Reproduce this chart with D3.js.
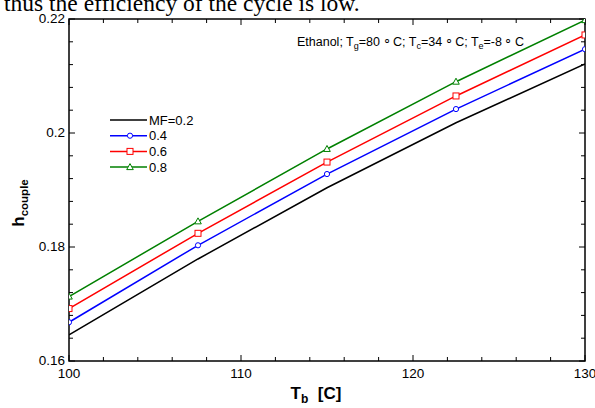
<!DOCTYPE html>
<html><head><meta charset="utf-8">
<script src="https://cdn.jsdelivr.net/npm/d3@7"></script>
<style>body{margin:0;background:#fff;}svg{display:block;}</style>
</head><body>
<svg id="c" width="595" height="408"></svg>
<script>
const tb = [100, 107.5, 115, 122.5, 130];
const mf02 = [0.1646, 0.1779, 0.1904, 0.2018, 0.2121];
const mf04 = [0.1668, 0.1803, 0.1928, 0.2042, 0.2147];
const mf06 = [0.1692, 0.1824, 0.1949, 0.2065, 0.2172];
const mf08 = [0.1713, 0.1845, 0.1972, 0.2090, 0.2198];
const seriesNames = ["MF=0.2", "0.4", "0.6", "0.8"];
const xTickLabels = [100, 110, 120, 130];
const yTickLabels = [0.16, 0.18, 0.2, 0.22];

const series = [
  {name: seriesNames[0], vals: mf02, color: "#000000", marker: null},
  {name: seriesNames[1], vals: mf04, color: "#0000ff", marker: "circle"},
  {name: seriesNames[2], vals: mf06, color: "#ff0000", marker: "square"},
  {name: seriesNames[3], vals: mf08, color: "#008000", marker: "triangle"}
];

const svg = d3.select("#c");
const L = 69, R = 585, T = 19, B = 361;
const x = d3.scaleLinear().domain([100, 130]).range([L, R]);
const y = d3.scaleLinear().domain([0.16, 0.22]).range([B, T]);

// caption text at top (cut off)
svg.append("text").attr("x", 4).attr("y", 11)
  .attr("font-family", "Liberation Serif, Times New Roman, serif")
  .attr("font-size", 23.5).text("thus the efficiency of the cycle is low.");

svg.append("defs").append("clipPath").attr("id", "clip")
  .append("rect").attr("x", L).attr("y", T).attr("width", R - L).attr("height", B - T);

const font = "Liberation Sans, Arial, sans-serif";
const xMinor = d3.range(100, 130.01, 2);
const yMinor = d3.range(0, 16).map(i => 0.16 + i * 0.004);

const tg = svg.append("g").attr("stroke", "#000").attr("stroke-width", 1);
xMinor.forEach(v => {
  const major = xTickLabels.includes(Math.round(v));
  const len = major ? 6 : 4;
  tg.append("line").attr("x1", x(v)).attr("x2", x(v)).attr("y1", B).attr("y2", B - len);
  tg.append("line").attr("x1", x(v)).attr("x2", x(v)).attr("y1", T).attr("y2", T + len);
});
yMinor.forEach(v => {
  const major = yTickLabels.some(t => Math.abs(t - v) < 1e-6);
  const len = major ? 6 : 4;
  tg.append("line").attr("y1", y(v)).attr("y2", y(v)).attr("x1", L).attr("x2", L + len);
  tg.append("line").attr("y1", y(v)).attr("y2", y(v)).attr("x1", R).attr("x2", R - len);
});

// axes frame
svg.append("rect").attr("x", L).attr("y", T).attr("width", R - L).attr("height", B - T)
  .attr("fill", "none").attr("stroke", "#000").attr("stroke-width", 1.5);

// tick labels
xTickLabels.forEach(v => {
  svg.append("text").attr("x", x(v)).attr("y", B + 17).attr("text-anchor", "middle")
    .attr("font-family", font).attr("font-size", 13.5).text(v);
});
yTickLabels.forEach(v => {
  svg.append("text").attr("x", L - 4).attr("y", y(v) + 4).attr("text-anchor", "end")
    .attr("font-family", font).attr("font-size", 13.5).text(v);
});

// axis titles
const xt = svg.append("text").attr("x", 316).attr("y", 399).attr("text-anchor", "middle")
  .attr("font-family", font).attr("font-size", 17).attr("font-weight", "bold");
xt.append("tspan").text("T");
xt.append("tspan").attr("font-size", 12).attr("dy", 4).text("b");
xt.append("tspan").attr("dy", -4).text("\u00a0\u00a0[C]");

const yt = svg.append("text").attr("transform", "translate(24,203) rotate(-90)")
  .attr("text-anchor", "middle")
  .attr("font-family", font).attr("font-size", 17).attr("font-weight", "bold");
yt.append("tspan").text("h");
yt.append("tspan").attr("font-size", 11.5).attr("dy", 4).text("couple");

// annotation
const an = svg.append("text").attr("x", 297).attr("y", 46)
  .attr("font-family", font).attr("font-size", 12.5);
// [text, dy]
const parts = [
  ["Ethanol; T", 0], ["g", 3, 9], ["=80", -3], ["\u2009\u2218\u2009", -2], ["C; T", 2],
  ["c", 3, 9], ["=34", -3], ["\u2009\u2218\u2009", -2], ["C; T", 2],
  ["e", 3, 9], ["=-8", -3], ["\u2009\u2218\u2009", -2], ["C", 2]
];
parts.forEach(([t, dy, fs]) => {
  const sp = an.append("tspan").text(t);
  if (dy) sp.attr("dy", dy);
  if (fs) sp.attr("font-size", fs);
});

// lines
const plot = svg.append("g").attr("clip-path", "url(#clip)");
const line = d3.line().x((d, i) => x(tb[i])).y(d => y(d));
function drawMarker(g, type, cx, cy, color) {
  if (type === "circle") g.append("circle").attr("cx", cx).attr("cy", cy).attr("r", 2.6)
    .attr("fill", "#fff").attr("stroke", color).attr("stroke-width", 1);
  else if (type === "square") g.append("rect").attr("x", cx - 3).attr("y", cy - 3).attr("width", 6).attr("height", 6)
    .attr("fill", "#fff").attr("stroke", color).attr("stroke-width", 1);
  else if (type === "triangle") g.append("path")
    .attr("d", `M${cx},${cy - 3.5}L${cx + 3.3},${cy + 2.5}L${cx - 3.3},${cy + 2.5}Z`)
    .attr("fill", "#fff").attr("stroke", color).attr("stroke-width", 1);
}
series.forEach(s => {
  plot.append("path").datum(s.vals).attr("d", line).attr("fill", "none")
    .attr("stroke", s.color).attr("stroke-width", 1.5);
  if (s.marker) s.vals.forEach((v, i) => drawMarker(plot, s.marker, x(tb[i]), y(v), s.color));
});

// legend
series.forEach((s, i) => {
  const ly = 120 + i * 15.7;
  svg.append("line").attr("x1", 110).attr("x2", 147).attr("y1", ly).attr("y2", ly)
    .attr("stroke", s.color).attr("stroke-width", 1.5);
  if (s.marker) drawMarker(svg, s.marker, 130, ly, s.color);
  svg.append("text").attr("x", 149).attr("y", ly + 4.5).attr("font-family", font)
    .attr("font-size", 13).text(s.name);
});
</script>
</body></html>
